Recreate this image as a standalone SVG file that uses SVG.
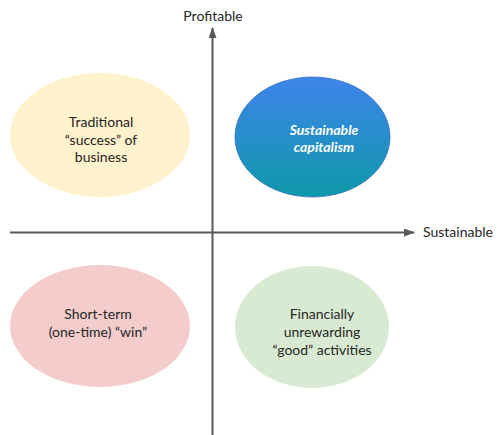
<svg xmlns="http://www.w3.org/2000/svg" width="500" height="435" viewBox="0 0 500 435">
  <defs>
    <linearGradient id="blueGrad" x1="0" y1="0" x2="0" y2="1">
      <stop offset="0" stop-color="#3F84EC"/>
      <stop offset="1" stop-color="#0E99A8"/>
    </linearGradient>
    <marker id="arrow" markerWidth="11" markerHeight="8" refX="10" refY="4" orient="auto" markerUnits="userSpaceOnUse">
      <path d="M0,0 L11,4 L0,8 Z" fill="#595959"/>
    </marker>
  </defs>
  <style>
    .lbl { font-family: Lato, "Open Sans", "Liberation Sans", sans-serif; font-size: 14px; fill: #262626; text-anchor: middle; }
    .axis { stroke: #595959; stroke-width: 2; fill: none; }
    .white { fill: #ffffff; font-weight: bold; font-style: italic; }
  </style>
  <rect width="500" height="435" fill="#ffffff"/>

  <g id="connectors">
    <line class="axis" x1="212.5" y1="435" x2="212.5" y2="28" marker-end="url(#arrow)"/>
    <line class="axis" x1="10" y1="232.5" x2="414" y2="232.5" marker-end="url(#arrow)"/>
  </g>

  <g id="axis-labels">
    <text class="lbl" x="213" y="21">Profitable</text>
    <text class="lbl" x="423" y="237" style="text-anchor:start">Sustainable</text>
  </g>

  <g id="traditional">
    <ellipse cx="100" cy="135" rx="90" ry="62" fill="#FFF2CC"/>
    <text class="lbl" x="101" y="127">Traditional</text>
    <text class="lbl" x="101" y="145">“success” of</text>
    <text class="lbl" x="101" y="162">business</text>
  </g>

  <g id="sustainable-capitalism">
    <ellipse cx="312.5" cy="137" rx="77.5" ry="60" fill="url(#blueGrad)" stroke="#2F6FBF" stroke-width="0.8"/>
    <text class="lbl white" x="324" y="135">Sustainable</text>
    <text class="lbl white" x="324" y="152">capitalism</text>
  </g>

  <g id="short-term">
    <ellipse cx="100" cy="326" rx="90" ry="61" fill="#F4CCCC"/>
    <text class="lbl" x="98" y="319">Short-term</text>
    <text class="lbl" x="98" y="337">(one-time) “win”</text>
  </g>

  <g id="financially-unrewarding">
    <ellipse cx="312" cy="327" rx="77" ry="61" fill="#D9EAD3"/>
    <text class="lbl" x="322" y="319">Financially</text>
    <text class="lbl" x="322" y="337">unrewarding</text>
    <text class="lbl" x="322" y="355">“good” activities</text>
  </g>
</svg>
